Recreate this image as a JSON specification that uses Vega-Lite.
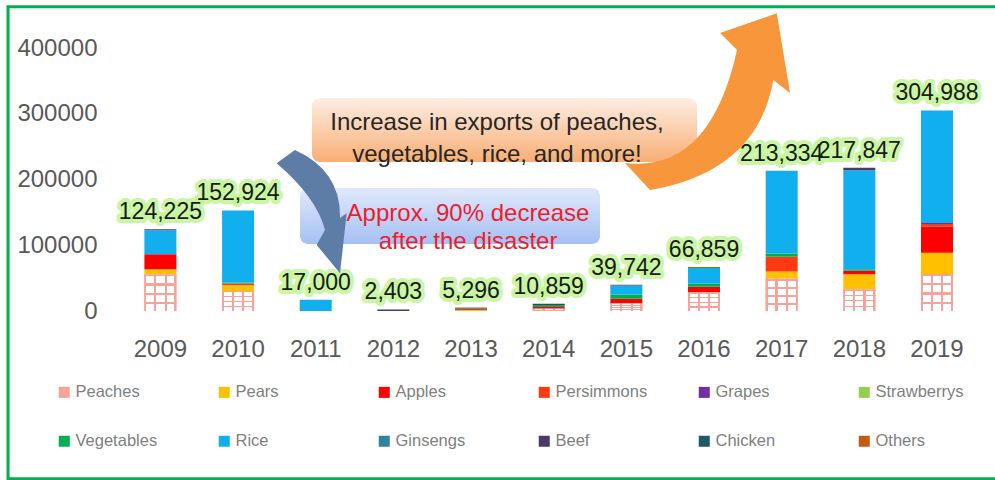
{
  "$schema": "https://vega.github.io/schema/vega-lite/v6.json",
  "width": 866,
  "height": 263,
  "autosize": {"type": "none"},
  "padding": {"left": 120, "top": 48, "right": 9, "bottom": 169},
  "background": "white",
  "config": {"view": {"stroke": null}, "font": "Liberation Sans"},
  "resolve": {"scale": {"x": "independent", "y": "independent"}, "axis": {"x": "independent", "y": "independent"}},
  "layer": [
    {
      "data": {"values": [{}]},
      "mark": {"type": "rect", "filled": false, "stroke": "#00B050", "strokeWidth": 3},
      "encoding": {
        "x": {"datum": 2007.038, "type": "quantitative", "scale": {"domain": [2008.4798, 2019.631], "nice": false, "zero": false}, "axis": null},
        "x2": {"datum": 2021},
        "y": {"datum": 462810, "type": "quantitative", "scale": {"domain": [0, 400000], "nice": false}, "axis": null},
        "y2": {"datum": -255207}
      }
    },
    {
      "data": {"values": [{}]},
      "mark": {"type": "rect", "cornerRadius": 8, "fill": {"gradient": "linear", "x1": 0, "y1": 0, "x2": 0, "y2": 1, "stops": [{"offset": 0, "color": "#FDEEE3"}, {"offset": 1, "color": "#F8AE74"}]}},
      "encoding": {
        "x": {"datum": 2010.952, "type": "quantitative", "scale": {"domain": [2008.4798, 2019.631], "nice": false, "zero": false}, "axis": null},
        "x2": {"datum": 2015.91},
        "y": {"datum": 323950, "type": "quantitative", "scale": {"domain": [0, 400000], "nice": false}, "axis": null},
        "y2": {"datum": 226620}
      }
    },
    {
      "data": {"values": [{}]},
      "mark": {"type": "rect", "cornerRadius": 8, "fill": {"gradient": "linear", "x1": 0, "y1": 0, "x2": 0, "y2": 1, "stops": [{"offset": 0, "color": "#E0E9FB"}, {"offset": 1, "color": "#A5C0F3"}]}},
      "encoding": {
        "x": {"datum": 2010.798, "type": "quantitative", "scale": {"domain": [2008.4798, 2019.631], "nice": false, "zero": false}, "axis": null},
        "x2": {"datum": 2014.661},
        "y": {"datum": 187070, "type": "quantitative", "scale": {"domain": [0, 400000], "nice": false}, "axis": null},
        "y2": {"datum": 101900}
      }
    },
    {
      "data": {"values": [
        {"year": "2009", "cat": "Peaches", "value": 56000},
        {"year": "2009", "cat": "Pears", "value": 7500},
        {"year": "2009", "cat": "Apples", "value": 23000},
        {"year": "2009", "cat": "Rice", "value": 36225},
        {"year": "2009", "cat": "Beef", "value": 1500},
        {"year": "2010", "cat": "Peaches", "value": 30500},
        {"year": "2010", "cat": "Pears", "value": 8500},
        {"year": "2010", "cat": "Persimmons", "value": 3000},
        {"year": "2010", "cat": "Vegetables", "value": 1500},
        {"year": "2010", "cat": "Rice", "value": 109424},
        {"year": "2011", "cat": "Rice", "value": 17000},
        {"year": "2012", "cat": "Beef", "value": 2403},
        {"year": "2013", "cat": "Pears", "value": 2000},
        {"year": "2013", "cat": "Others", "value": 1796},
        {"year": "2013", "cat": "Beef", "value": 1500},
        {"year": "2014", "cat": "Peaches", "value": 3500},
        {"year": "2014", "cat": "Apples", "value": 2500},
        {"year": "2014", "cat": "Vegetables", "value": 3000},
        {"year": "2014", "cat": "Beef", "value": 1859},
        {"year": "2015", "cat": "Peaches", "value": 11700},
        {"year": "2015", "cat": "Apples", "value": 7000},
        {"year": "2015", "cat": "Vegetables", "value": 6500},
        {"year": "2015", "cat": "Rice", "value": 13542},
        {"year": "2015", "cat": "Beef", "value": 1000},
        {"year": "2016", "cat": "Peaches", "value": 28000},
        {"year": "2016", "cat": "Apples", "value": 9000},
        {"year": "2016", "cat": "Vegetables", "value": 4500},
        {"year": "2016", "cat": "Rice", "value": 23859},
        {"year": "2016", "cat": "Others", "value": 1500},
        {"year": "2017", "cat": "Peaches", "value": 49000},
        {"year": "2017", "cat": "Pears", "value": 11000},
        {"year": "2017", "cat": "Persimmons", "value": 22500},
        {"year": "2017", "cat": "Vegetables", "value": 5000},
        {"year": "2017", "cat": "Rice", "value": 125834},
        {"year": "2018", "cat": "Peaches", "value": 33000},
        {"year": "2018", "cat": "Pears", "value": 22800},
        {"year": "2018", "cat": "Apples", "value": 5500},
        {"year": "2018", "cat": "Vegetables", "value": 2300},
        {"year": "2018", "cat": "Rice", "value": 150647},
        {"year": "2018", "cat": "Beef", "value": 3600},
        {"year": "2019", "cat": "Peaches", "value": 56300},
        {"year": "2019", "cat": "Pears", "value": 32400},
        {"year": "2019", "cat": "Apples", "value": 39500},
        {"year": "2019", "cat": "Persimmons", "value": 4000},
        {"year": "2019", "cat": "Grapes", "value": 1500},
        {"year": "2019", "cat": "Rice", "value": 171288}
      ]},
      "transform": [
        {"lookup": "cat", "from": {"data": {"values": [
          {"cat": "Peaches", "k": 0}, {"cat": "Pears", "k": 1}, {"cat": "Apples", "k": 2}, {"cat": "Persimmons", "k": 3},
          {"cat": "Grapes", "k": 4}, {"cat": "Strawberrys", "k": 5}, {"cat": "Vegetables", "k": 6}, {"cat": "Rice", "k": 7},
          {"cat": "Ginsengs", "k": 8}, {"cat": "Beef", "k": 9}, {"cat": "Chicken", "k": 10}, {"cat": "Others", "k": 11}]}, "key": "cat", "fields": ["k"]}}
      ],
      "encoding": {
        "x": {"field": "year", "type": "ordinal", "title": null,
          "scale": {"paddingInner": 0.588, "paddingOuter": 0.3696, "align": 0.425},
          "axis": {"labelAngle": 0, "domain": false, "ticks": false, "grid": false, "labelFont": "Liberation Sans", "labelFontSize": 24, "labelColor": "#595959", "labelPadding": 26}}
      },
      "layer": [
        {
          "mark": {"type": "bar"},
          "encoding": {
            "y": {"field": "value", "type": "quantitative", "stack": "zero", "title": null,
              "scale": {"domain": [0, 400000], "nice": false},
              "axis": {"values": [0, 100000, 200000, 300000, 400000], "format": "d", "domain": false, "ticks": false, "labelFont": "Liberation Sans", "labelFontSize": 24, "labelColor": "#595959", "labelPadding": 23, "gridColor": "#D9D9D9", "gridWidth": 2.5}},
            "order": {"field": "k", "type": "quantitative", "sort": "ascending"},
            "color": {"field": "cat", "type": "nominal",
              "sort": ["Peaches", "Pears", "Apples", "Persimmons", "Grapes", "Strawberrys", "Vegetables", "Rice", "Ginsengs", "Beef", "Chicken", "Others"],
              "scale": {
                "domain": ["Peaches", "Pears", "Apples", "Persimmons", "Grapes", "Strawberrys", "Vegetables", "Rice", "Ginsengs", "Beef", "Chicken", "Others"],
                "range": ["#F7A399", "#FFC000", "#FF0000", "#FF3A12", "#7030A0", "#92D050", "#00B050", "#12AFEF", "#31849B", "#4B3A66", "#215967", "#C55A11"]
              },
              "legend": {"title": null, "orient": "none", "legendX": -64, "legendY": 336, "direction": "horizontal", "columns": 6, "gridAlign": "all", "columnPadding": 48, "rowPadding": 32, "symbolType": "square", "symbolSize": 121, "symbolStrokeWidth": 0, "labelFont": "Liberation Sans", "labelFontSize": 16.5, "labelColor": "#808080", "labelOffset": 3, "padding": 0, "labelLimit": 200}
            }
          }
        },
        {
          "transform": [{"filter": "datum.cat === 'Peaches'"}],
          "mark": {"type": "bar", "fill": {"gradient": "linear", "x1": 0, "y1": 0, "x2": 1, "y2": 0, "stops": [
            {"offset": 0, "color": "#F7A399"}, {"offset": 0.06, "color": "#F7A399"}, {"offset": 0.06, "color": "#FFFFFF"}, {"offset": 0.3, "color": "#FFFFFF"},
            {"offset": 0.3, "color": "#F7A399"}, {"offset": 0.37, "color": "#F7A399"}, {"offset": 0.37, "color": "#FFFFFF"}, {"offset": 0.63, "color": "#FFFFFF"},
            {"offset": 0.63, "color": "#F7A399"}, {"offset": 0.7, "color": "#F7A399"}, {"offset": 0.7, "color": "#FFFFFF"}, {"offset": 0.94, "color": "#FFFFFF"},
            {"offset": 0.94, "color": "#F7A399"}, {"offset": 1, "color": "#F7A399"}]}},
          "encoding": {"y": {"field": "value", "type": "quantitative", "stack": null, "title": null, "scale": {"domain": [0, 400000], "nice": false}}}
        },
        {
          "transform": [{"filter": "datum.cat === 'Peaches'"}],
          "mark": {"type": "bar", "fill": {"gradient": "linear", "x1": 0, "y1": 0, "x2": 0, "y2": 1, "stops": [
            {"offset": 0, "color": "#F7A399"}, {"offset": 0.06, "color": "#F7A399"}, {"offset": 0.06, "color": "rgba(255,255,255,0)"}, {"offset": 0.25, "color": "rgba(255,255,255,0)"},
            {"offset": 0.25, "color": "#F7A399"}, {"offset": 0.31, "color": "#F7A399"}, {"offset": 0.31, "color": "rgba(255,255,255,0)"}, {"offset": 0.5, "color": "rgba(255,255,255,0)"},
            {"offset": 0.5, "color": "#F7A399"}, {"offset": 0.56, "color": "#F7A399"}, {"offset": 0.56, "color": "rgba(255,255,255,0)"}, {"offset": 0.75, "color": "rgba(255,255,255,0)"},
            {"offset": 0.75, "color": "#F7A399"}, {"offset": 0.81, "color": "#F7A399"}, {"offset": 0.81, "color": "rgba(255,255,255,0)"}, {"offset": 1, "color": "rgba(255,255,255,0)"}]}},
          "encoding": {"y": {"field": "value", "type": "quantitative", "stack": null, "title": null, "scale": {"domain": [0, 400000], "nice": false}}}
        },
        {
          "transform": [{"aggregate": [{"op": "sum", "field": "value", "as": "total"}], "groupby": ["year"]}],
          "mark": {"type": "text", "font": "Liberation Sans", "fontSize": 23, "baseline": "alphabetic", "dy": -10, "fill": "#C4F59A", "stroke": "#C4F59A", "strokeWidth": 8, "strokeJoin": "round", "strokeOpacity": 0.9},
          "encoding": {
            "y": {"field": "total", "type": "quantitative", "title": null, "scale": {"domain": [0, 400000], "nice": false}},
            "text": {"field": "total", "type": "quantitative", "format": ",d"}
          }
        },
        {
          "transform": [{"aggregate": [{"op": "sum", "field": "value", "as": "total"}], "groupby": ["year"]}],
          "mark": {"type": "text", "font": "Liberation Sans", "fontSize": 23, "baseline": "alphabetic", "dy": -10, "fill": "#1A1A1A"},
          "encoding": {
            "y": {"field": "total", "type": "quantitative", "title": null, "scale": {"domain": [0, 400000], "nice": false}},
            "text": {"field": "total", "type": "quantitative", "format": ",d"}
          }
        }
      ]
    },
    {
      "data": {"values": [{}]},
      "mark": {"type": "point", "filled": true, "opacity": 1, "strokeWidth": 0, "color": "#5E7DA6", "size": 16900,
        "shape": "M0.462,0.974 L0.565,0.051 L0.462,0.123 Q0.48,-0.6 -0.231,-0.923 L-0.513,-0.718 Q0.1,-0.195 0.231,0.308 L0.103,0.538 Z"},
      "encoding": {
        "x": {"datum": 2010.926, "type": "quantitative", "scale": {"domain": [2008.4798, 2019.631], "nice": false, "zero": false}, "axis": null},
        "y": {"datum": 153610, "type": "quantitative", "scale": {"domain": [0, 400000], "nice": false}, "axis": null}
      }
    },
    {
      "data": {"values": [{}]},
      "mark": {"type": "point", "filled": true, "opacity": 1, "strokeWidth": 0, "color": "#F7963A", "size": 36100,
        "shape": "M0.755,-0.913 L0.895,-0.074 L0.719,-0.211 Q0.55,0.75 -0.579,0.947 L-0.842,0.663 Q0.05,0.77 0.337,-0.526 L0.158,-0.705 Z"},
      "encoding": {
        "x": {"datum": 2016.013, "type": "quantitative", "scale": {"domain": [2008.4798, 2019.631], "nice": false, "zero": false}, "axis": null},
        "y": {"datum": 320910, "type": "quantitative", "scale": {"domain": [0, 400000], "nice": false}, "axis": null}
      }
    },
    {
      "data": {"values": [{}]},
      "mark": {"type": "text", "text": ["Increase in exports of peaches,", "vegetables, rice, and more!"], "font": "Liberation Sans", "fontSize": 24, "lineHeight": 32, "align": "center", "baseline": "middle", "color": "#262626"},
      "encoding": {
        "x": {"datum": 2013.334, "type": "quantitative", "scale": {"domain": [2008.4798, 2019.631], "nice": false, "zero": false}, "axis": null},
        "y": {"datum": 285930, "type": "quantitative", "scale": {"domain": [0, 400000], "nice": false}, "axis": null}
      }
    },
    {
      "data": {"values": [{}]},
      "mark": {"type": "text", "text": ["Approx. 90% decrease", "after the disaster"], "font": "Liberation Sans", "fontSize": 24, "lineHeight": 28, "align": "center", "baseline": "middle", "color": "#EF1C2C"},
      "encoding": {
        "x": {"datum": 2012.961, "type": "quantitative", "scale": {"domain": [2008.4798, 2019.631], "nice": false, "zero": false}, "axis": null},
        "y": {"datum": 147527, "type": "quantitative", "scale": {"domain": [0, 400000], "nice": false}, "axis": null}
      }
    }
  ]
}
